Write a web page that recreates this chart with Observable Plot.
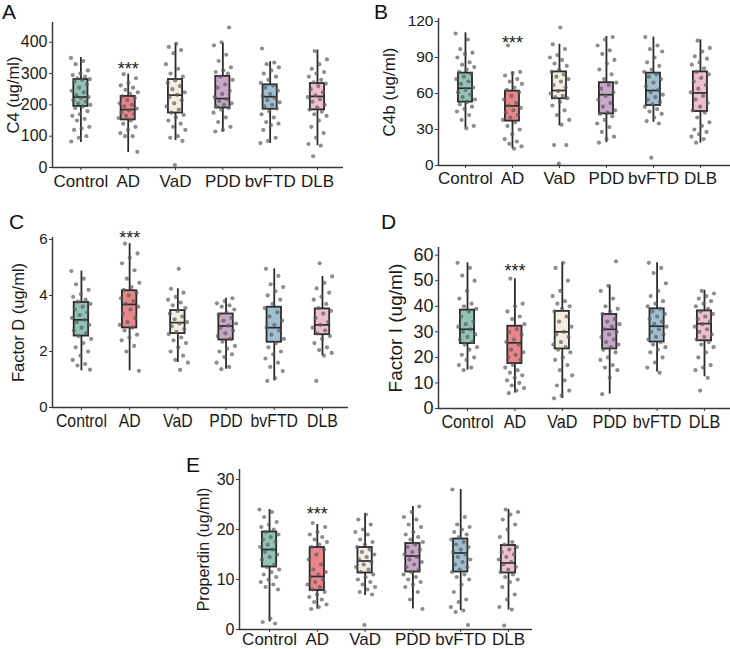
<!DOCTYPE html>
<html>
<head>
<meta charset="utf-8">
<script src="https://cdn.jsdelivr.net/npm/d3@7"></script>
<script src="https://cdn.jsdelivr.net/npm/@observablehq/plot@0.6"></script>
<style>
  html, body { margin: 0; padding: 0; background: #fff; }
  #wrap { position: relative; width: 730px; height: 649px; overflow: hidden;
          font-family: Arial, "Liberation Sans", sans-serif; color: #1a1a1a; }
  .panel { position: absolute; }
  .panel svg { overflow: visible; }
  .plabel { position: absolute; font-size: 21px; line-height: 1; color: #111; }
</style>
</head>
<body>
<div id="wrap"></div>
<script>
// ---------------- data ----------------
const groups = ["Control", "AD", "VaD", "PDD", "bvFTD", "DLB"];
const boxColors = ["#91c4b7", "#e8868a", "#f4ede2", "#c9a7c9", "#9fbfd3", "#efbfcd"];

// five-number summaries per group: [whisker low, Q1, median, Q3, whisker high]
const c4Box = [[80,195,225,281,351],[48,152,185,227,298],[86,174,231,281,397],[113,190,220,291,397],[77,186,226,264,338],[70,184,227,268,375]];
const c4bBox = [[31.4,52.8,64.4,77,110.6],[14,37,49.7,62,78],[33,55.6,62.5,78,101],[19,43,59,69,107.5],[36,50,62.5,77,107],[18.6,45,60.5,78,104.7]];
const factorDBox = [[1.31,2.55,3.13,3.75,4.87],[1.31,2.84,3.68,4.17,5.85],[1.61,2.64,3.03,3.46,4.24],[1.37,2.41,2.91,3.34,3.9],[0.95,2.33,2.85,3.58,4.95],[1.85,2.6,2.95,3.52,4.68]];
const factorIBox = [[15,25.4,31,38.5,57],[6.1,17.6,25.7,32.2,50.8],[3.9,23.3,30,38,57],[5.6,23.3,31,36.8,48.2],[14.3,26,32.2,39,57],[12.4,26.5,33.2,38.2,46.3]];
const properdinBox = [[1.5,12.5,16,19.5,24],[4.1,7.8,10.6,16.4,21],[6.8,11.3,13.7,16.4,23.2],[4.1,11.5,14.7,17.2,24.6],[3.8,11.5,15.3,18.1,28],[3.9,11.3,13.3,16.8,24]];

// individual observations per group
const c4Points = [
  [350,340,330,310,300,295,290,285,282,280,275,265,255,245,240,230,225,222,215,210,205,200,195,190,180,170,165,155,150,130,125,120,100,95,83],
  [298,285,270,262,255,248,240,235,228,222,215,205,200,195,188,182,175,170,165,158,150,140,130,120,110,100,100,50],
  [395,385,375,365,330,315,300,290,278,270,260,250,240,232,225,215,205,195,185,175,168,160,150,140,130,120,100,95,85,8],
  [447,400,390,360,340,320,310,305,300,290,280,265,255,245,235,225,218,212,205,200,195,190,185,175,160,145,130,120,115],
  [380,335,330,320,310,300,290,280,270,262,255,245,235,228,222,215,208,200,195,188,180,170,160,145,140,135,120,95,85,78],
  [372,345,330,315,305,300,290,280,272,268,260,250,240,230,225,218,210,200,192,185,178,170,165,150,130,110,95,75,70,36]
];
const c4bPoints = [
  [110,105,97,94,93,90,86,84,82,80,78,76,74,72,70,68,65,63,61,59,57,55,53,51,49,47,45,42,38,33,31],
  [100,78,77,75,72,70,68,65,63,61,58,55,52,50,48,46,44,42,40,38,36,33,30,26,22,20,18,16,14],
  [115,101,97,92,90,88,85,83,80,78,76,74,72,70,67,65,62,60,58,57,56,53,50,46,42,38,34,17,17,1.5],
  [107,105,100,96,93,88,85,80,76,72,69,67,64,61,58,55,52,49,46,44,43,41,38,35,32,28,24,22,19],
  [107,100,97,95,90,86,83,80,78,76,74,72,69,66,63,61,59,57,55,53,51,49,47,45,43,40,37,35,6.5],
  [104,98,95,91,89,86,84,81,78,76,73,70,67,64,61,58,55,52,49,46,44,40,36,33,30,28,26,24,22,19]
];
const factorDPoints = [
  [4.87,4.6,4.4,4.2,4.05,3.95,3.85,3.78,3.7,3.6,3.5,3.4,3.3,3.2,3.13,3.05,2.95,2.85,2.75,2.65,2.55,2.45,2.3,2.15,2.0,1.85,1.7,1.55,1.5,1.35],
  [5.85,5.5,5.35,5.15,4.9,4.6,4.45,4.3,4.2,4.1,4.0,3.9,3.8,3.7,3.6,3.5,3.35,3.2,3.05,2.95,2.85,2.75,2.6,2.5,2.4,2.2,2.0,1.31],
  [4.95,4.24,4.1,3.95,3.85,3.75,3.65,3.55,3.45,3.35,3.25,3.15,3.05,3.0,2.9,2.8,2.7,2.62,2.5,2.4,2.3,2.15,2.0,1.85,1.7,1.6,1.34],
  [3.9,3.8,3.72,3.65,3.6,3.5,3.4,3.3,3.2,3.1,3.0,2.92,2.85,2.75,2.65,2.55,2.45,2.35,2.2,2.1,2.0,1.9,1.8,1.6,1.45,1.37],
  [4.95,4.7,4.4,4.3,4.15,4.0,3.85,3.7,3.55,3.4,3.25,3.1,2.95,2.85,2.75,2.6,2.45,2.3,2.15,2.0,1.9,1.75,1.6,1.45,1.3,1.05,0.95],
  [5.15,4.68,4.45,4.25,4.1,3.95,3.85,3.7,3.55,3.45,3.35,3.2,3.05,2.95,2.85,2.75,2.65,2.55,2.45,2.3,2.15,2.05,1.95,1.85,0.95]
];
const factorIPoints = [
  [57,55,52,50,46,43,41,40,39,38,36,34,33,32,31,30,29,28,27,26,25,24,23,21,20,19,17,16,15],
  [50.8,41,40,38,36,35,33,31,30,29,27,26,25,23,22,21,20,19,17,16,15,14,13,12,11,10,9,8,7,6],
  [57,55,50,46,44,42,41,40,39,38,36,34,32,30,29,28,26,25,24,23,22,20,19,17,15,13,11,9,7,5,4],
  [57.6,48,46,43,40,39,38,37,35,34,33,32,31,30,29,28,27,26,25,24,23,22,20,19,17,16,15,12,5.6],
  [57,55,53,49,46,44,42,41,40,39,38,37,36,35,34,33,32,31,30,29,28,27,26,25,24,23,22,20,18,16,14],
  [46,45,44,43,42,41,40,39,38,37,36,35,34,33,32,31,30,29,28,27,26,25,24,22,20,17,16,15,12,7]
];
const properdinPoints = [
  [24,23.5,22.5,21.5,21,20.5,20,19.5,19,18.5,18,17.5,17,16.5,16,15.5,15,14.5,14,13,12.5,12,11.5,11,10.5,10,9.5,9,8.5,8,2.2,1.5,1.2],
  [21.3,20.5,19.5,19,18.5,18,17.5,17,16.5,16,15,14,13,12,11.5,11,10.5,10,9.5,9,8.5,8,7.5,7,6.5,6,5.5,5,4.5,4.1],
  [23,22,21,20,19.5,19,18,17.5,17,16.5,16,15.5,15,14.5,14,13.5,13,12.5,12,11.5,11,10.5,10,9.5,9,8.5,8,7.5,7,0.9],
  [24.6,23.5,22.5,22,21,20.5,19.5,19,18.5,18,17.5,17,16.5,16,15.5,15,14.5,14,13.5,13,12.5,12,11.5,11,10.5,10,9.5,9,8.5,7.5,6,4.1],
  [28,22.5,21,20.5,20,19.5,19,18.5,18,17.5,17,16.5,16,15.5,15,14.5,14,13.5,13,12.5,12,11.5,11,10.5,10,9,7.5,6,5.5,4.5,3.8,3.5,0.9],
  [24,23.5,23,22,21,20,18.5,17.5,17,16.5,16,15.5,15,14.5,14,13.5,13,12.5,12,11.5,11,10.5,10,9.5,8.5,7,6,4.5,4,0.8]
];

// significance marks (value where "***" sits above AD)
const starValues = [325, 105, 6.18, 55.3, 23.8];

// ---------------- drawing ----------------
const INK = "#2b2b2b";
const AX = "#3a3a3a";
const FONT = 'Arial, "Liberation Sans", sans-serif';

function jit(i, j) {
  const u = (j * 0.6180339887 + i * 0.2719) % 1;
  return (u - 0.5) * 0.42;
}

function squeeze(svg, sx) {
  if (sx === 1) return;
  svg.querySelectorAll("text").forEach(t => {
    if (!groups.includes(t.textContent)) return;
    const tr = t.getAttribute("transform");
    if (tr) {
      t.setAttribute("transform", tr + ` scale(${sx},1)`);
    } else {
      const x = +(t.getAttribute("x") || 0), y = +(t.getAttribute("y") || 0);
      t.setAttribute("transform", `translate(${x},${y}) scale(${sx},1) translate(${-x},${-y})`);
    }
  });
}

function panel(cfg) {
  const boxes = cfg.box.map((b, i) => ({i, lo: b[0], q1: b[1], med: b[2], q3: b[3], hi: b[4]}));
  const pts = cfg.points.flatMap((vals, i) => vals.map((v, j) => ({x: i + jit(i, j), y: v})));
  const hw = 0.15;
  const chart = Plot.plot({
    width: cfg.w, height: cfg.h,
    marginLeft: cfg.ml, marginRight: cfg.mr, marginTop: cfg.mt, marginBottom: cfg.mb,
    style: {fontFamily: FONT, color: "#1a1a1a", background: "transparent", overflow: "visible"},
    x: {domain: cfg.xd, axis: null},
    y: {domain: cfg.yd, axis: null},
    color: {type: "identity"},
    marks: [
      Plot.ruleX(boxes, {x: "i", y1: "lo", y2: "hi", stroke: INK, strokeWidth: 1.8}),
      Plot.rect(boxes, {x1: d => d.i - hw, x2: d => d.i + hw, y1: "q1", y2: "q3",
                        fill: d => boxColors[d.i], stroke: INK, strokeWidth: 1.8}),
      Plot.ruleY(boxes, {y: "med", x1: d => d.i - hw, x2: d => d.i + hw, stroke: INK, strokeWidth: 1.7}),
      Plot.dot(pts, {x: "x", y: "y", r: 2.1, fill: "#5c5c5c", fillOpacity: 0.7, stroke: "none"}),
      Plot.ruleY([0], {stroke: AX, strokeWidth: 1.5}),
      Plot.ruleX([cfg.xd[0]], {stroke: AX, strokeWidth: 1.5}),
      Plot.axisY({ticks: cfg.yt, tickFormat: d => String(d), tickSize: 3, tickPadding: 2, fontSize: cfg.yfs, stroke: AX,
                  label: cfg.label, labelAnchor: "center", labelOffset: cfg.lo, labelArrow: "none"}),
      Plot.axisX({ticks: [0, 1, 2, 3, 4, 5], tickFormat: i => groups[i], tickSize: 3,
                  tickPadding: cfg.xpad, fontSize: cfg.xfs, stroke: AX, label: null}),
      Plot.text([cfg.star], {x: d => 1, y: d => d, text: d => "***", fontSize: 18, dy: 4, fill: "#222"})
    ]
  });
  chart.querySelectorAll("text").forEach(t => {
    if (t.textContent === cfg.label) t.setAttribute("font-size", cfg.tfs);
  });
  squeeze(chart, cfg.xsx);

  const div = document.createElement("div");
  div.className = "panel";
  div.style.left = cfg.left + "px";
  div.style.top = cfg.top + "px";
  div.appendChild(chart);
  document.getElementById("wrap").appendChild(div);

  const lab = document.createElement("div");
  lab.className = "plabel";
  lab.textContent = cfg.letter;
  lab.style.left = cfg.lx + "px";
  lab.style.top = cfg.ly + "px";
  document.getElementById("wrap").appendChild(lab);
}

panel({letter: "A", lx: 2, ly: 1, left: 0, top: 0, w: 365, h: 200, ml: 52, mr: 22, mt: 22, mb: 33,
  xd: [-0.6, 5.55], yd: [0, 463], yt: [0, 100, 200, 300, 400], label: "C4 (ug/ml)", lo: 45,
  yfs: 16, xfs: 17, xsx: 1, tfs: 16.5, xpad: 4, box: c4Box, points: c4Points, star: starValues[0]});

panel({letter: "B", lx: 374, ly: 1, left: 365, top: 0, w: 365, h: 200, ml: 73, mr: 0, mt: 18, mb: 35,
  xd: [-0.574, 5.64], yd: [0, 122.5], yt: [0, 30, 60, 90, 120], label: "C4b (ug/ml)", lo: 56,
  yfs: 15.5, xfs: 17, xsx: 1, tfs: 17, xpad: 3, box: c4bBox, points: c4bPoints, star: starValues[1]});

panel({letter: "C", lx: 9, ly: 211, left: 0, top: 200, w: 365, h: 235, ml: 52, mr: 17, mt: 37, mb: 28,
  xd: [-0.6, 5.54], yd: [0, 6.07], yt: [0, 2, 4, 6], label: "Factor D (ug/ml)", lo: 40,
  yfs: 15, xfs: 18, xsx: 0.88, tfs: 16.5, xpad: 4, box: factorDBox, points: factorDPoints, star: starValues[2]});

panel({letter: "D", lx: 381, ly: 211, left: 365, top: 200, w: 365, h: 235, ml: 73, mr: 0, mt: 47, mb: 27,
  xd: [-0.612, 5.549], yd: [0, 63], yt: [0, 10, 20, 30, 40, 50, 60], label: "Factor I (ug/ml)", lo: 50,
  yfs: 18, xfs: 18, xsx: 0.9, tfs: 19, xpad: 4, box: factorIBox, points: factorIPoints, star: starValues[3]});

panel({letter: "E", lx: 186, ly: 454, left: 180, top: 440, w: 365, h: 209, ml: 59, mr: 13, mt: 29, mb: 20,
  xd: [-0.628, 5.502], yd: [0, 32], yt: [0, 10, 20, 30], label: "Properdin (ug/ml)", lo: 42,
  yfs: 16, xfs: 17, xsx: 1, tfs: 16, xpad: 0, box: properdinBox, points: properdinPoints, star: starValues[4]});
</script>
</body>
</html>
